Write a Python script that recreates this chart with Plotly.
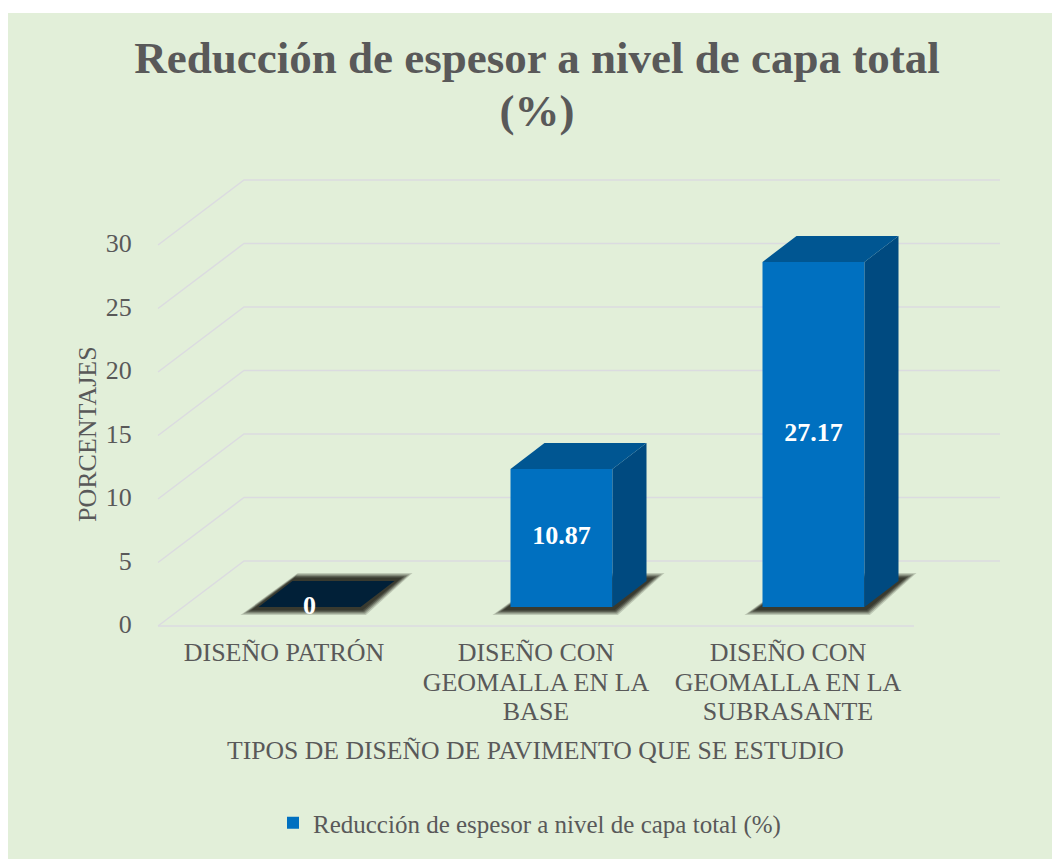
import plotly.graph_objects as go

categories = ["DISEÑO PATRÓN", "DISEÑO CON<br>GEOMALLA EN LA<br>BASE", "DISEÑO CON<br>GEOMALLA EN LA<br>SUBRASANTE"]
values = [0, 10.87, 27.17]
y_ticks = [0, 5, 10, 15, 20, 25, 30]
slots = [0, 1, 2]

GREEN = "#e2efd9"
GRID = "#dbdbe0"
TEXT = "#595959"
SERIF = "Liberation Serif"
FRONT = "#0070c0"
SIDE = "#004a80"
TOPS = ["#012038", "#005692", "#005692"]

# pixel size of one axis unit, the chart is a fake 3d so everything is offset from these
PX_X = 252.0
PX_Y = 12.7
WALL_DX = 86 / PX_X
WALL_DY = 65 / PX_Y
BAR_SHIFT = 25.5 / PX_X
BAR_W = 102 / PX_X
BAR_DX = 34 / PX_X
BAR_DY = 26 / PX_Y
FLOOR = 19 / PX_Y

# plot box on the page
LEFT, RIGHT, TOP, BOTTOM = 150, 1010, 170, 632
W, H = 1052, 859
x_range = [(LEFT - 284) / PX_X, (RIGHT - 284) / PX_X]
y_range = [(626 - BOTTOM) / PX_Y, (626 - TOP) / PX_Y]


def paper_x(px):
    return (px - LEFT) / (RIGHT - LEFT)


def paper_y(px):
    return (BOTTOM - px) / (BOTTOM - TOP)


def big(text, size):
    # line spacing follows the outer font size, the glyphs follow this one
    return "<br>".join(f"<span style='font-size:{size}px'>{t}</span>" for t in text.split("<br>"))


fig = go.Figure()

# gridlines: along the side wall and then along the back wall
for v in y_ticks:
    xs = [-0.5, -0.5 + WALL_DX, 2.5 + WALL_DX]
    ys = [v, v + WALL_DY, v + WALL_DY]
    fig.add_trace(go.Scatter(x=xs, y=ys, mode="lines", line=dict(color=GRID, width=1.5),
                             showlegend=False, hoverinfo="skip"))
fig.add_trace(go.Scatter(x=[-0.5, 2.5], y=[0, 0], mode="lines", line=dict(color=GRID, width=1.5),
                         showlegend=False, hoverinfo="skip"))

bar_x = [s + BAR_SHIFT for s in slots]


def poly(points, color, overlay=True):
    fig.add_trace(go.Scatter(x=[p[0] for p in points], y=[p[1] for p in points], mode="lines",
                             fill="toself", fillcolor=color, line=dict(width=0),
                             xaxis="x2" if overlay else "x", yaxis="y2" if overlay else "y",
                             showlegend=False, hoverinfo="skip"))


# soft shadow on the floor, a few stacked polygons
for grow, op in [(1.0, 0.2), (0.85, 0.3), (0.7, 0.4), (0.55, 0.55), (0.4, 0.7)]:
    for x in bar_x:
        x0, x1 = x - BAR_W / 2, x + BAR_W / 2
        gx = 18 * grow / PX_X
        gy = 8 * grow / PX_Y
        poly([(x0 - gx, FLOOR - gy), (x1 + gx * 0.3, FLOOR - gy),
              (x1 + BAR_DX + gx, FLOOR + BAR_DY + gy), (x0 + BAR_DX + gx * 0.3, FLOOR + BAR_DY + gy)],
             f"rgba(50,50,40,{op})", overlay=False)

# bars sit on overlay axes so they cover the gridlines
fig.add_trace(go.Bar(x=bar_x, y=values, base=FLOOR, width=BAR_W, marker=dict(color=FRONT, line=dict(width=0)),
                     xaxis="x2", yaxis="y2",
                     name="Reducción de espesor a nivel de capa total (%)", hoverinfo="skip"))

# top and side faces
for x, v, top in zip(bar_x, values, TOPS):
    x0, x1 = x - BAR_W / 2, x + BAR_W / 2
    t = FLOOR + v
    if v > 0:
        poly([(x1, FLOOR), (x1 + BAR_DX, FLOOR + BAR_DY), (x1 + BAR_DX, t + BAR_DY), (x1, t)], SIDE)
    poly([(x0, t), (x1, t), (x1 + BAR_DX, t + BAR_DY), (x0 + BAR_DX, t + BAR_DY)], top)

fig.add_trace(go.Scatter(x=bar_x, y=[FLOOR + v / 2 for v in values], mode="text",
                         text=[str(v) for v in values], textposition="middle center",
                         textfont=dict(family=SERIF, size=26, color="white", weight="bold"),
                         xaxis="x2", yaxis="y2",
                         showlegend=False, hoverinfo="skip", cliponaxis=False))

fig.add_annotation(text="TIPOS DE DISEÑO DE PAVIMENTO QUE SE ESTUDIO", xref="paper", yref="paper",
                   x=paper_x(535.5), y=paper_y(750), xanchor="center", yanchor="middle", showarrow=False,
                   font=dict(family=SERIF, size=25.7, color=TEXT))
fig.add_annotation(text="PORCENTAJES", textangle=-90, xref="paper", yref="paper",
                   x=paper_x(87), y=paper_y(434), xanchor="center", yanchor="middle", showarrow=False,
                   font=dict(family=SERIF, size=26, color=TEXT))

# page background starts a little inside the top left corner
fig.add_shape(type="rect", xref="paper", yref="paper", layer="below", line_width=0, fillcolor=GREEN,
              x0=paper_x(8), x1=paper_x(W), y0=paper_y(H), y1=paper_y(13))

axis_common = dict(range=x_range, showgrid=False, zeroline=False, showline=False)

fig.update_layout(
    width=W, height=H,
    margin=dict(l=LEFT, r=W - RIGHT, t=TOP, b=H - BOTTOM, autoexpand=False),
    paper_bgcolor="white", plot_bgcolor="rgba(0,0,0,0)",
    showlegend=True,
    title=dict(text=big("Reducción de espesor a nivel de capa total<br>(%)", 45), x=537 / W, xanchor="center",
               y=1 - 60 / H, yanchor="top", pad=dict(t=13),
               font=dict(family=SERIF, size=41, color=TEXT, weight="bold")),
    legend=dict(orientation="h", x=paper_x(273), xanchor="left", y=paper_y(823), yanchor="middle",
                font=dict(family=SERIF, size=25, color=TEXT), bgcolor="rgba(0,0,0,0)"),
    xaxis=dict(**axis_common, tickvals=slots, ticktext=[big(c, 26) for c in categories],
               ticks="outside", ticklen=1, tickcolor="rgba(0,0,0,0)", tickangle=0,
               tickfont=dict(family=SERIF, size=22.7, color=TEXT)),
    yaxis=dict(range=y_range, tickvals=y_ticks, showgrid=False, zeroline=False, showline=False,
               ticks="outside", ticklen=12, tickcolor="rgba(0,0,0,0)", ticklabelshift=-2,
               tickfont=dict(family=SERIF, size=26, color=TEXT)),
    xaxis2=dict(**axis_common, overlaying="x", visible=False),
    yaxis2=dict(range=y_range, overlaying="y", visible=False, showgrid=False, zeroline=False),
)

fig.write_html("out.html", config={"displayModeBar": False},
               post_script="document.body.style.margin='0';document.body.style.overflow='hidden';")
